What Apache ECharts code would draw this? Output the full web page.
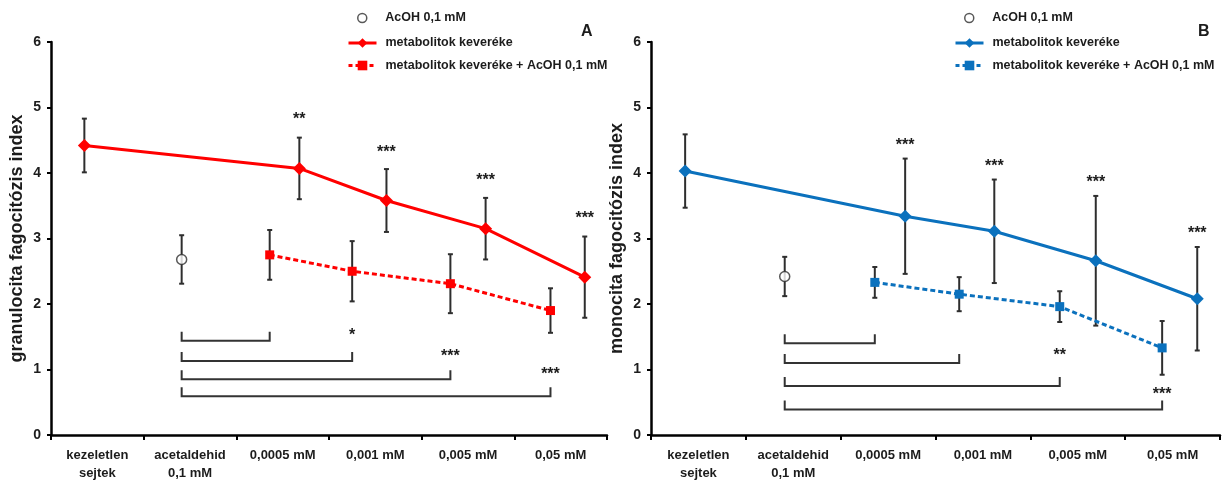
<!DOCTYPE html>
<html>
<head>
<meta charset="utf-8">
<script src="https://cdn.jsdelivr.net/npm/echarts@6/dist/echarts.min.js"></script>
<style>
  html, body { margin: 0; padding: 0; background: #fff; }
  #chart { width: 1228px; height: 484px; }
</style>
</head>
<body>
<div id="chart"></div>
<script>
// ---- shared categories and marker positions (x in category units, 0–6) ----
const categories = ['kezeletlen\nsejtek', 'acetaldehid\n0,1 mM', '0,0005 mM', '0,001 mM', '0,005 mM', '0,05 mM'];
const xMix = [0.36, 2.68, 3.62, 4.69, 5.76];
const xAcOH = [1.41];
const xMixAcOH = [2.36, 3.25, 4.31, 5.39];

const seriesNames = ['AcOH 0,1 mM', 'metabolitok keveréke', 'metabolitok keveréke + AcOH 0,1 mM'];

// ---- panel A: granulocytes ----
const granMix = [4.42, 4.07, 3.58, 3.15, 2.41];
const granMixErr = [0.41, 0.47, 0.48, 0.47, 0.62];
const granAcOH = [2.68];
const granAcOHErr = [0.37];
const granMixAcOH = [2.75, 2.50, 2.31, 1.90];
const granMixAcOHErr = [0.38, 0.46, 0.45, 0.34];
const granStars = ['', '**', '***', '***', '***'];
const granStarY = [null, 4.87, 4.38, 3.94, 3.36];
const granBracketLevel = [1.44, 1.13, 0.85, 0.59];
const granBracketStars = ['', '*', '***', '***'];
const granBracketStarY = [null, 1.585, 1.26, 0.99];

// ---- panel B: monocytes ----
const monoMix = [4.03, 3.34, 3.11, 2.66, 2.08];
const monoMixErr = [0.56, 0.88, 0.79, 0.99, 0.79];
const monoAcOH = [2.42];
const monoAcOHErr = [0.30];
const monoMixAcOH = [2.33, 2.15, 1.96, 1.33];
const monoMixAcOHErr = [0.235, 0.26, 0.235, 0.41];
const monoStars = ['', '***', '***', '***', '***'];
const monoStarY = [null, 4.48, 4.16, 3.92, 3.14];
const monoBracketLevel = [1.40, 1.10, 0.75, 0.39];
const monoBracketStars = ['', '', '**', '***'];
const monoBracketStarY = [null, null, 1.27, 0.68];

const FONT = '"Liberation Sans", Arial, Helvetica, sans-serif';
const INK = '#1c1c1c';
const BAR = '#2e2e2e';

const panels = [
  {
    color: '#ff0000', letter: 'A', yName: 'granulocita fagocitózis index',
    grid: { left: 51, top: 42, width: 556, height: 393 },
    circleLegendLeft: 352, lineLegendLeft: 342, letterLeft: 581,
    mix: granMix, mixErr: granMixErr, acoh: granAcOH, acohErr: granAcOHErr,
    mixAcoh: granMixAcOH, mixAcohErr: granMixAcOHErr,
    stars: granStars, starY: granStarY,
    bLevel: granBracketLevel, bStars: granBracketStars, bStarY: granBracketStarY
  },
  {
    color: '#0b71bd', letter: 'B', yName: 'monocita fagocitózis index',
    grid: { left: 651, top: 42, width: 569, height: 393 },
    circleLegendLeft: 959, lineLegendLeft: 949, letterLeft: 1198,
    mix: monoMix, mixErr: monoMixErr, acoh: monoAcOH, acohErr: monoAcOHErr,
    mixAcoh: monoMixAcOH, mixAcohErr: monoMixAcOHErr,
    stars: monoStars, starY: monoStarY,
    bLevel: monoBracketLevel, bStars: monoBracketStars, bStarY: monoBracketStarY
  }
];

const grid = [], xAxis = [], yAxis = [], series = [], legend = [], graphic = [];
const legendText = {
  color: INK, fontFamily: FONT, fontWeight: 'bold', fontSize: 12.5, lineHeight: 14, padding: [0, 0, 0, 4]
};

panels.forEach((p, k) => {
  grid.push(p.grid);
  const valAxis = 2 * k + 1;

  // visible category axis (ticks on the group boundaries)
  xAxis.push({
    type: 'category', gridIndex: k, data: categories, boundaryGap: true,
    axisLine: { lineStyle: { color: '#000', width: 2.5 } },
    axisTick: { show: true, length: 5, lineStyle: { color: '#000', width: 2 } },
    axisLabel: {
      interval: 0, margin: 11, color: INK, fontFamily: FONT, fontWeight: 'bold',
      fontSize: 13, lineHeight: 18
    },
    splitLine: { show: false }
  });
  // hidden numeric axis that places the markers inside each group
  xAxis.push({ type: 'value', gridIndex: k, min: 0, max: 6, show: false });

  yAxis.push({
    type: 'value', gridIndex: k, min: 0, max: 6, interval: 1,
    name: p.yName, nameLocation: 'middle', nameRotate: 90, nameGap: 25,
    nameTextStyle: { color: INK, fontFamily: FONT, fontWeight: 'bold', fontSize: 18 },
    axisLine: { show: true, lineStyle: { color: '#000', width: 2.5 } },
    axisTick: { show: true, length: 4, lineStyle: { color: '#000', width: 2 } },
    axisLabel: { margin: 10, color: INK, fontFamily: FONT, fontWeight: 'bold', fontSize: 14 },
    splitLine: { show: false }
  });

  const nm = n => p.letter + '|' + n;

  // error bars (drawn under the markers)
  const errData = [];
  xMix.forEach((x, i) => errData.push([x, p.mix[i], p.mixErr[i]]));
  xAcOH.forEach((x, i) => errData.push([x, p.acoh[i], p.acohErr[i]]));
  xMixAcOH.forEach((x, i) => errData.push([x, p.mixAcoh[i], p.mixAcohErr[i]]));
  series.push({
    type: 'custom', xAxisIndex: valAxis, yAxisIndex: k, z: 1, silent: true,
    data: errData,
    renderItem: (params, api) => {
      const x = api.value(0), y = api.value(1), e = api.value(2);
      const t = api.coord([x, y + e]), b = api.coord([x, y - e]);
      const st = { stroke: BAR, lineWidth: 2 };
      const cap = 2.5;
      return {
        type: 'group', children: [
          { type: 'line', shape: { x1: t[0], y1: t[1], x2: b[0], y2: b[1] }, style: st },
          { type: 'line', shape: { x1: t[0] - cap, y1: t[1], x2: t[0] + cap, y2: t[1] }, style: st },
          { type: 'line', shape: { x1: b[0] - cap, y1: b[1], x2: b[0] + cap, y2: b[1] }, style: st }
        ]
      };
    }
  });

  // mixture of metabolites
  series.push({
    name: nm(seriesNames[1]), type: 'line', xAxisIndex: valAxis, yAxisIndex: k, z: 3,
    data: xMix.map((x, i) => [x, p.mix[i]]),
    symbol: 'diamond', symbolSize: 13, showSymbol: true,
    lineStyle: { color: p.color, width: 3 },
    itemStyle: { color: p.color },
    animation: false
  });
  // mixture + AcOH
  series.push({
    name: nm(seriesNames[2]), type: 'line', xAxisIndex: valAxis, yAxisIndex: k, z: 3,
    data: xMixAcOH.map((x, i) => [x, p.mixAcoh[i]]),
    symbol: 'rect', symbolSize: 9, showSymbol: true,
    lineStyle: { color: p.color, width: 3, type: [5, 3] },
    itemStyle: { color: p.color },
    animation: false
  });
  // AcOH alone
  series.push({
    name: nm(seriesNames[0]), type: 'scatter', xAxisIndex: valAxis, yAxisIndex: k, z: 3,
    data: xAcOH.map((x, i) => [x, p.acoh[i]]),
    symbol: 'circle', symbolSize: 10,
    itemStyle: { color: '#fff', borderColor: BAR, borderWidth: 1.5 },
    animation: false
  });

  // significance stars above the mixture points
  series.push({
    type: 'custom', xAxisIndex: valAxis, yAxisIndex: k, z: 4, silent: true,
    data: xMix.map((x, i) => [x, p.starY[i] == null ? 0 : p.starY[i]]),
    renderItem: (params, api) => {
      const txt = p.stars[params.dataIndex];
      if (!txt) return null;
      const c = api.coord([api.value(0), api.value(1)]);
      return {
        type: 'text', x: c[0], y: c[1] + 4,
        style: { text: txt, fill: INK, font: 'bold 16px ' + FONT, align: 'center', verticalAlign: 'middle' }
      };
    }
  });

  // comparison brackets from AcOH to each mixture + AcOH point
  series.push({
    type: 'custom', xAxisIndex: valAxis, yAxisIndex: k, z: 2, silent: true,
    data: xMixAcOH.map((x, i) => [xAcOH[0], x, p.bLevel[i], p.bStarY[i] == null ? 0 : p.bStarY[i]]),
    renderItem: (params, api) => {
      const i = params.dataIndex;
      const l = api.coord([api.value(0), api.value(2)]);
      const r = api.coord([api.value(1), api.value(2)]);
      const h = 9;
      const st = { stroke: '#333', lineWidth: 2, fill: null };
      const children = [{
        type: 'polyline',
        shape: { points: [[l[0], l[1] - h], [l[0], l[1]], [r[0], r[1]], [r[0], r[1] - h]] },
        style: st
      }];
      const txt = p.bStars[i];
      if (txt) {
        const s = api.coord([api.value(1), api.value(3)]);
        children.push({
          type: 'text', x: s[0], y: s[1] + 4,
          style: { text: txt, fill: INK, font: 'bold 16px ' + FONT, align: 'center', verticalAlign: 'middle' }
        });
      }
      return { type: 'group', children };
    }
  });

  // legend: open-circle row, then the two line rows
  legend.push({
    left: p.circleLegendLeft, top: 6, orient: 'vertical',
    itemWidth: 28, itemHeight: 9, itemGap: 0,
    data: [
      { name: nm(seriesNames[0]), icon: 'circle',
        itemStyle: { color: '#fff', borderColor: BAR, borderWidth: 1.5 } }
    ],
    formatter: n => n.slice(2),
    textStyle: legendText,
    selectedMode: false
  });
  legend.push({
    left: p.lineLegendLeft, top: 31, orient: 'vertical',
    itemWidth: 28, itemHeight: 12, itemGap: 8.5,
    data: [
      { name: nm(seriesNames[1]),
        itemStyle: { color: p.color }, lineStyle: { color: p.color, width: 3 } },
      { name: nm(seriesNames[2]),
        itemStyle: { color: p.color }, lineStyle: { color: p.color, width: 3, type: [4, 3] } }
    ],
    formatter: n => n.slice(2),
    textStyle: legendText,
    selectedMode: false
  });

  graphic.push({
    type: 'text', left: p.letterLeft, top: 24,
    style: { text: p.letter, fill: INK, font: 'bold 16px ' + FONT }
  });
});

const chart = echarts.init(document.getElementById('chart'), null, { renderer: 'canvas' });
chart.setOption({
  backgroundColor: '#fff',
  animation: false,
  grid, xAxis, yAxis, series, legend, graphic
});
</script>
</body>
</html>
